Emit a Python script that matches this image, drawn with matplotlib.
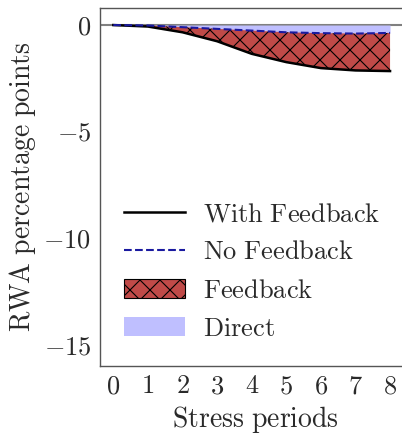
import numpy as np
import matplotlib
matplotlib.use("Agg")
import matplotlib.pyplot as plt
from matplotlib.patches import Patch
from matplotlib.lines import Line2D

# Cumulative RWA impact over the stress horizon (percentage points)
periods = [0, 1, 2, 3, 4, 5, 6, 7, 8]
with_feedback = [0.0, -0.07, -0.34, -0.76, -1.35, -1.74, -2.02, -2.13, -2.16]
no_feedback = [0.0, -0.02, -0.10, -0.18, -0.26, -0.34, -0.38, -0.40, -0.37]
y_ticks = [0, -5, -10, -15]

DPI = 120
k = 100 / DPI  # keep sizes as they would look at 100 dpi


def cm(s):
    """Render plain text in Computer Modern roman via mathtext."""
    return r"$\mathrm{" + s.replace(" ", r"\ ") + "}$"


plt.rcParams["font.family"] = "serif"
plt.rcParams["font.serif"] = ["cmr10", "DejaVu Serif"]
plt.rcParams["mathtext.fontset"] = "cm"
plt.rcParams["axes.formatter.use_mathtext"] = True
plt.rcParams["hatch.linewidth"] = 0.8 * k

fig = plt.figure(figsize=(402 / DPI, 435 / DPI), dpi=DPI)
ax = fig.add_axes([99.5 / 402, 69 / 435, 312 / 402, 358 / 435])

x = np.array(periods)
wf = np.array(with_feedback)
nf = np.array(no_feedback)

red = "#c04a48"
lilac = "#bfbfff"
navy = "#1a1aa0"

ax.axhline(0, color="#808080", lw=1.5 * k, zorder=1)
ax.fill_between(x, 0, nf, color=lilac, lw=0, zorder=2)
ax.fill_between(x, nf, wf, facecolor=red, edgecolor="black",
                hatch="xx", lw=0, zorder=2)
ax.plot(x, wf, color="black", lw=1.8 * k, zorder=4)
ax.plot(x, nf, color=navy, lw=1.5 * k, ls="--", zorder=4)

ax.set_xlim(-0.4, 8.62)
ax.set_ylim(-16.0, 0.8)
ax.set_xticks(periods)
ax.set_yticks(y_ticks)
ax.tick_params(length=0, labelsize=19 * k, colors="#2a2a2a", pad=6 * k)
for s in ax.spines.values():
    s.set_color("#555555")
    s.set_linewidth(1.0 * k)

ax.set_xlabel(cm("Stress periods"), fontsize=20 * k, color="#2a2a2a", labelpad=4 * k)
ax.set_ylabel(cm("RWA percentage points"), fontsize=20 * k, color="#2a2a2a",
              labelpad=4 * k)

handles = [
    Line2D([], [], color="black", lw=1.8 * k),
    Line2D([], [], color=navy, lw=1.5 * k, ls="--"),
    Patch(facecolor=red, edgecolor="black", hatch="xx", lw=0.8 * k),
    Patch(facecolor=lilac, edgecolor="none"),
]
labels = [cm("With Feedback"), cm("No Feedback"), cm("Feedback"), cm("Direct")]
leg = ax.legend(handles, labels, loc="lower left", bbox_to_anchor=(0.045, 0.041),
                frameon=False, fontsize=19 * k, handlelength=2.3, handletextpad=0.7,
                labelspacing=0.55, labelcolor="#2a2a2a", borderaxespad=0.0)

fig.savefig("out.png", dpi=DPI)
